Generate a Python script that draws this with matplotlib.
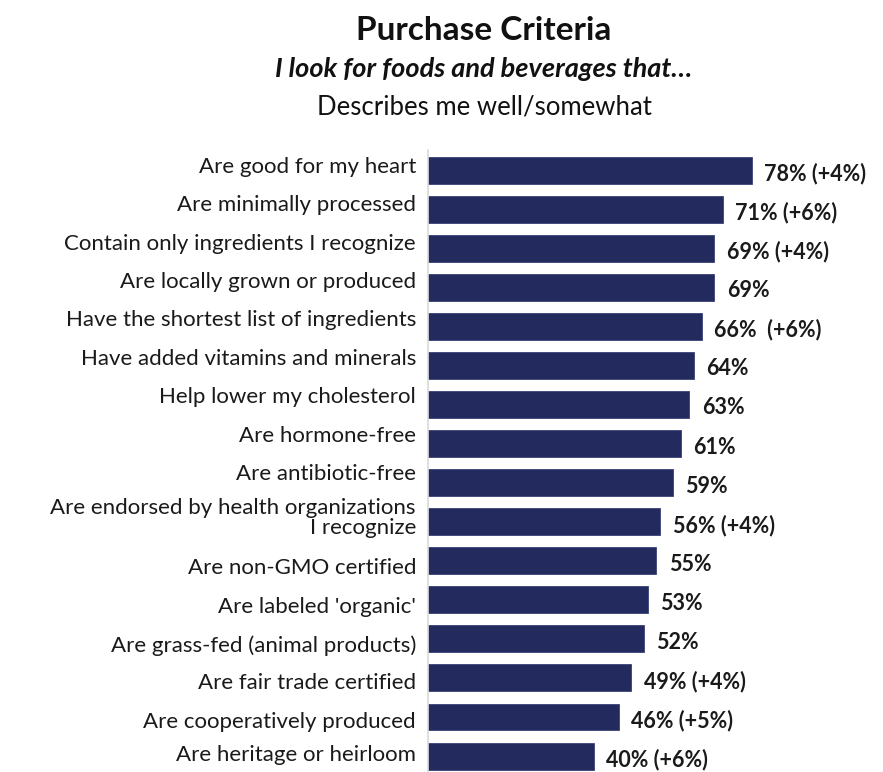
import matplotlib
matplotlib.use('Agg')
import matplotlib.pyplot as plt
from matplotlib.transforms import blended_transform_factory

NAVY = '#232B5E'
FONT = 'Lato'

criteria = [
    'Are good for my heart',
    'Are minimally processed',
    'Contain only ingredients I recognize',
    'Are locally grown or produced',
    'Have the shortest list of ingredients',
    'Have added vitamins and minerals',
    'Help lower my cholesterol',
    'Are hormone-free',
    'Are antibiotic-free',
    'Are endorsed by health organizations\nI recognize',
    'Are non-GMO certified',
    "Are labeled 'organic'",
    'Are grass-fed (animal products)',
    'Are fair trade certified',
    'Are cooperatively produced',
    'Are heritage or heirloom',
]
pct = [78, 71, 69, 69, 66, 64, 63, 61, 59, 56, 55, 53, 52, 49, 46, 40]
change = ['(+4%)', '(+6%)', '(+4%)', '', ' (+6%)', '', '', '', '', '(+4%)',
          '', '', '', '(+4%)', '(+5%)', '(+6%)']

# small vertical nudges (pixels) for the category text, as laid out in the deck
label_nudge_px = [-3, -4, -4, -5, -6, -6, -7, -8, -9, -3.5, 7, 7, 7, 5, 5, -1]

W, H = 883, 772
ROW_PX = 39.07
fig = plt.figure(figsize=(W / 100, H / 100), dpi=100, facecolor='white')
ax = fig.add_axes([428 / W, 1 - 775.6 / H, 415 / W, 625.1 / H])

y = list(range(len(pct)))
ax.barh(y, pct, height=0.69, color=NAVY, edgecolor='#3a4276', linewidth=0.6)
ax.set_xlim(0, 100)
ax.set_ylim(len(pct) - 0.5, -0.5)

# value labels to the right of each bar
for yi, v, c in zip(y, pct, change):
    lbl = f'{v}%' + (f' {c}' if c else '')
    ax.text(v + 3.0, yi + 0.09, lbl, va='center', ha='left', fontsize=15.5,
            fontweight='bold', family=FONT, color='#1a1a1a')

# category labels, right-aligned against the axis line
trans = blended_transform_factory(ax.transAxes, ax.transData)
for yi, name, dy in zip(y, criteria, label_nudge_px):
    ax.text(-12 / 415, yi + dy / ROW_PX, name, transform=trans,
            ha='right', va='center', multialignment='right', fontsize=16,
            family=FONT, color='#1a1a1a', linespacing=0.98)

ax.set_yticks([])
ax.set_xticks([])
for s in ['top', 'right', 'bottom']:
    ax.spines[s].set_visible(False)
ax.spines['left'].set_color('#d9d9d9')
ax.spines['left'].set_linewidth(1.2)

fig.text(484 / W, 1 - 31 / H, 'Purchase Criteria', ha='center', va='center',
         fontsize=24, fontweight='bold', family=FONT, color='#111111')
fig.text(484 / W, 1 - 69 / H, 'I look for foods and beverages that…', ha='center',
         va='center', fontsize=19.5, fontweight='bold', style='italic',
         family=FONT, color='#111111')
fig.text(484 / W, 1 - 107 / H, 'Describes me well/somewhat', ha='center',
         va='center', fontsize=18.5, family=FONT, color='#111111')

fig.savefig('out.png', dpi=100, facecolor='white')
